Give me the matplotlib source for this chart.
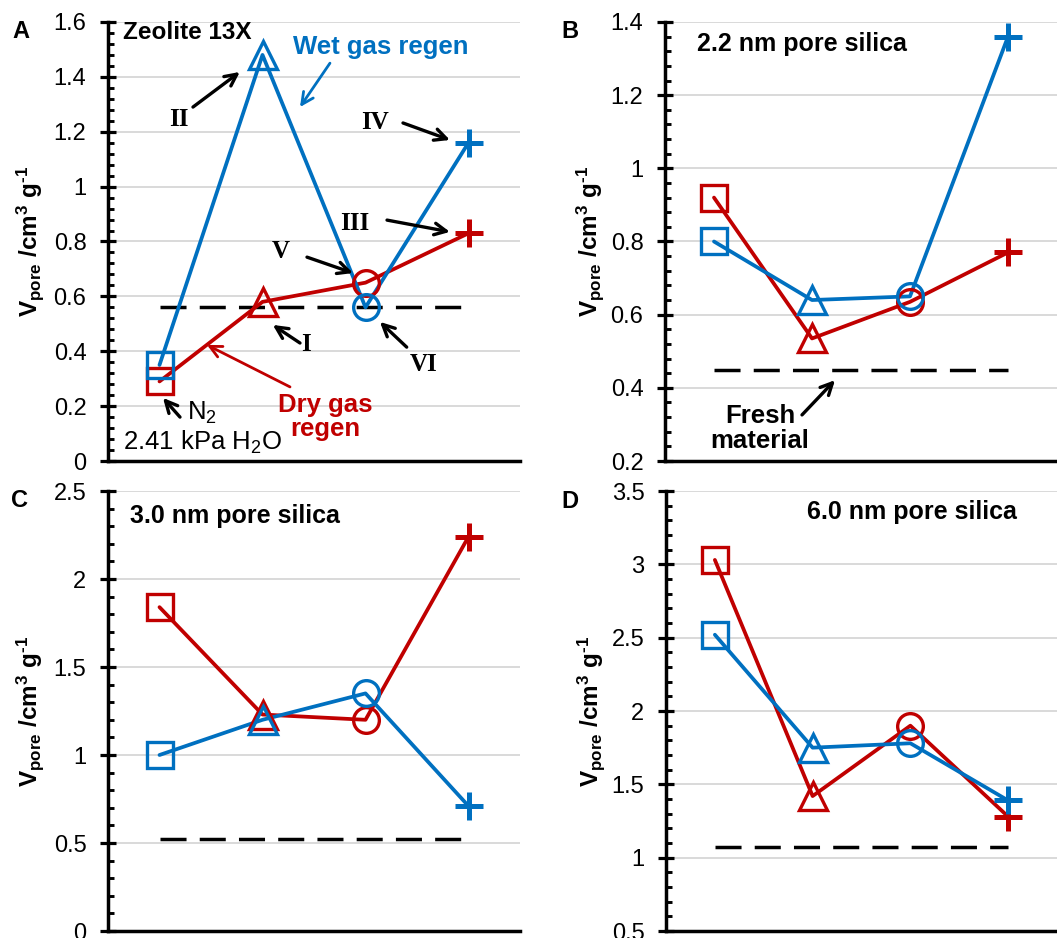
import numpy as np
import matplotlib
matplotlib.use("Agg")
import matplotlib.pyplot as plt
from matplotlib.ticker import MultipleLocator, FuncFormatter

plt.rcParams['font.family'] = ['Liberation Sans', 'DejaVu Sans']
plt.rcParams['mathtext.fontset'] = 'custom'
plt.rcParams['mathtext.rm'] = 'Liberation Sans'
plt.rcParams['mathtext.bf'] = 'Liberation Sans:bold'
plt.rcParams['mathtext.it'] = 'Liberation Sans:italic'

# Regeneration steps (square, triangle, circle, plus)
steps = [1, 2, 3, 4]
step_markers = ['s', '^', 'o', '+']

# Pore volume after each step, cm3/g
dry_A = [0.29, 0.58, 0.65, 0.83]
wet_A = [0.35, 1.48, 0.56, 1.16]
fresh_A = 0.56

dry_B = [0.92, 0.535, 0.635, 0.77]
wet_B = [0.80, 0.64, 0.65, 1.36]
fresh_B = 0.45

dry_C = [1.84, 1.23, 1.20, 2.24]
wet_C = [1.00, 1.20, 1.35, 0.71]
fresh_C = 0.52

dry_D = [3.03, 1.42, 1.90, 1.28]
wet_D = [2.52, 1.75, 1.78, 1.39]
fresh_D = 1.07

panel_letters = ['A', 'B', 'C', 'D']
panel_titles = ['Zeolite 13X', '2.2 nm pore silica', '3.0 nm pore silica', '6.0 nm pore silica']
y_ranges = [(0, 1.6, 0.2, 0.04), (0.2, 1.4, 0.2, 0.04), (0, 2.5, 0.5, 0.1), (0.5, 3.5, 0.5, 0.1)]

RED = '#C00000'
BLUE = '#0070C0'
GRID = '#D9D9D9'

W, H = 1057, 938
fig = plt.figure(figsize=(W / 100, H / 100), dpi=100)


def px_axes(x0, x1, y0, y1):
    return fig.add_axes([x0 / W, 1 - y1 / H, (x1 - x0) / W, (y1 - y0) / H])


axes = [px_axes(108, 520, 22, 461), px_axes(665, 1057, 22, 461),
        px_axes(108, 520, 491, 931), px_axes(666, 1057, 491, 931)]

data = [(dry_A, wet_A, fresh_A), (dry_B, wet_B, fresh_B),
        (dry_C, wet_C, fresh_C), (dry_D, wet_D, fresh_D)]

ylabel = r'$\mathbf{V}_{\mathbf{pore}}$ /cm$^{\mathbf{3}}$ g$^{\mathbf{‐1}}$'


def draw_series(ax, vals, color):
    ax.plot(steps, vals, '-', color=color, lw=2.7, solid_joinstyle='round',
            solid_capstyle='round', zorder=3)
    for xs, ys, m in zip(steps, vals, step_markers):
        if m == '+':
            ax.plot(xs, ys, marker=m, ms=20, mew=3.6, color=color, ls='none', zorder=4)
        elif m == '^':
            ax.plot(xs, ys, marker=m, ms=20, mew=2.4, mfc='none', mec=color, ls='none', zorder=4)
        else:
            ax.plot(xs, ys, marker=m, ms=18.5, mew=2.4, mfc='none', mec=color, ls='none', zorder=4)


for ax, (dry, wet, fresh), (lo, hi, step, minor) in zip(axes, data, y_ranges):
    ax.plot([steps[0], steps[-1]], [fresh, fresh], color='black', lw=2.5,
            ls=(0, (7.5, 3.8)), zorder=2)
    draw_series(ax, dry, RED)
    draw_series(ax, wet, BLUE)

    ax.set_xlim(0.5, 4.5)
    ax.set_ylim(lo, hi)
    ax.set_yticks(np.arange(lo, hi + step / 2, step))
    ax.yaxis.set_minor_locator(MultipleLocator(minor))
    ax.yaxis.set_major_formatter(FuncFormatter(lambda v, p: f'{round(v, 2):g}'))
    ax.set_xticks([])
    for s in ['top', 'right']:
        ax.spines[s].set_visible(False)
    for s in ['left', 'bottom']:
        ax.spines[s].set_linewidth(2.5)
        ax.spines[s].set_color('black')
    ax.tick_params(axis='y', which='major', direction='inout', length=11, width=2.3,
                   labelsize=17, pad=10)
    ax.tick_params(axis='y', which='minor', direction='in', length=4, width=2.1)
    ax.yaxis.grid(True, which='major', color=GRID, lw=1.4)
    ax.set_axisbelow(True)
    ax.set_ylabel(ylabel, fontsize=17.5, fontweight='bold')
    ax.yaxis.set_label_coords(-0.15, 0.5)

# Panel letters
for letter, (px, py) in zip(panel_letters, [(21, 32), (570, 32), (20, 500), (570, 501)]):
    fig.text(px / W, 1 - py / H, letter, fontsize=17, fontweight='bold',
             ha='center', va='center')

axA, axB, axC, axD = axes
axA.text(0.646, 1.56, panel_titles[0], fontsize=17.5, fontweight='bold', ha='left', va='center')
axB.text(0.827, 1.34, panel_titles[1], fontsize=18, fontweight='bold', ha='left', va='center')
axC.text(0.714, 2.36, panel_titles[2], fontsize=18, fontweight='bold', ha='left', va='center')
axD.text(1.939, 3.356, panel_titles[3], fontsize=18, fontweight='bold', ha='left', va='center')

arrow_k = dict(arrowstyle='->,head_width=0.42,head_length=0.85', color='black', lw=2.4,
               shrinkA=0, shrinkB=0)
serif = ['Liberation Serif', 'DejaVu Serif']

# Step labels with arrows on the zeolite panel
numerals = [('II', (1.19, 1.243), (1.325, 1.29), (1.78, 1.418)),
            ('IV', (3.09, 1.235), (3.364, 1.232), (3.82, 1.17)),
            ('III', (2.90, 0.867), (3.209, 0.878), (3.82, 0.835)),
            ('V', (2.18, 0.762), (2.432, 0.743), (2.879, 0.685)),
            ('I', (2.42, 0.423), (2.364, 0.43), (2.10, 0.496)),
            ('VI', (3.56, 0.35), (3.40, 0.415), (3.14, 0.507))]
for label, txy, tail, head in numerals:
    axA.text(*txy, label, family=serif, fontsize=18, fontweight='bold',
             ha='center', va='center')
    axA.annotate('', xy=head, xytext=tail, arrowprops=arrow_k)

axA.text(3.15, 1.509, 'Wet gas regen', color=BLUE, fontsize=18.5, fontweight='bold',
         ha='center', va='center')
axA.annotate('', xy=(2.364, 1.29), xytext=(2.655, 1.45),
             arrowprops=dict(arrow_k, color=BLUE, lw=2.0))

axA.text(2.607, 0.16, 'Dry gas\nregen', color=RED, fontsize=18.5, fontweight='bold',
         ha='center', va='center', linespacing=1.0)
axA.annotate('', xy=(1.461, 0.423), xytext=(2.267, 0.27),
             arrowprops=dict(arrow_k, color=RED, lw=2.0))

axA.text(1.27, 0.175, r'N$_2$', fontsize=18.5, ha='left', va='center')
axA.annotate('', xy=(1.034, 0.23), xytext=(1.199, 0.16), arrowprops=arrow_k)
axA.text(0.646, 0.066, r'2.41 kPa H$_2$O', fontsize=18.5, ha='left', va='center')

axB.text(1.469, 0.29, 'Fresh\nmaterial', fontsize=18.5, fontweight='bold',
         ha='center', va='center', linespacing=1.05)
axB.annotate('', xy=(2.235, 0.421), xytext=(1.898, 0.326), arrowprops=arrow_k)

fig.savefig('out.png', dpi=100)
